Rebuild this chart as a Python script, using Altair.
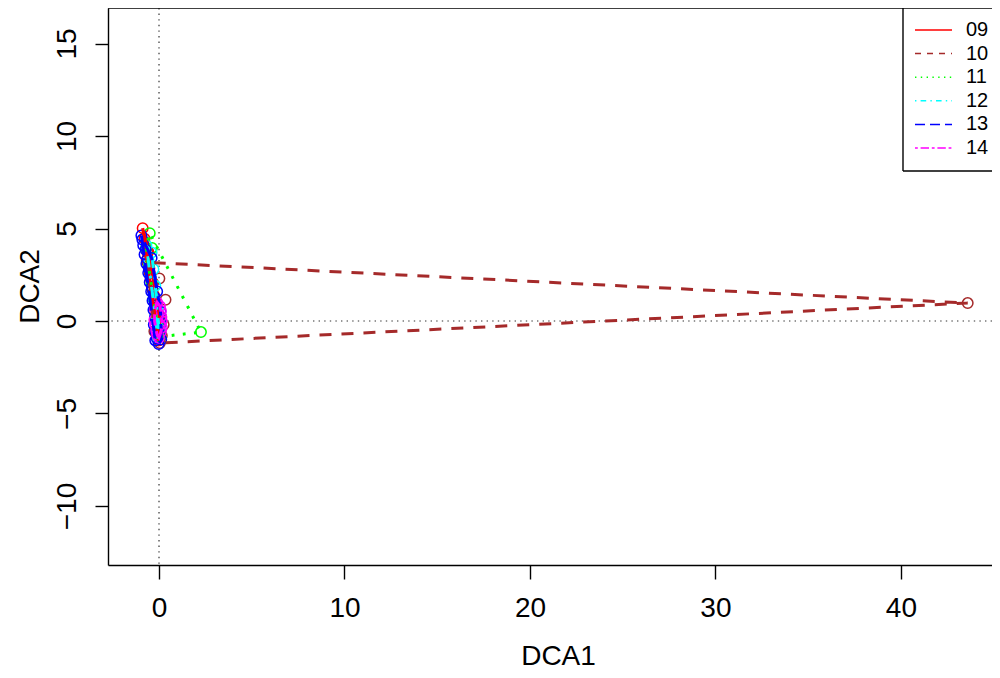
import altair as alt
import pandas as pd

FONT = "Liberation Sans"
W, H = 884, 557

groups = ["09", "10", "11", "12", "13", "14"]
colors = ["#FF0000", "#A52A2A", "#00FF00", "#00FFFF", "#0000FF", "#FF00FF"]
plot_dash = [[1, 0], [12, 10], [2.8, 8.4], [2.8, 8.4, 11.2, 8.4], [19.6, 8.4], [5.6, 5.6, 16.8, 5.6]]
legend_dash = [[1, 0], [6, 6], [1.4, 4.4], [1.4, 4.2, 5.6, 4.2], [10, 5], [2.8, 2.8, 8.4, 2.8]]

x09 = [-0.88, -0.78, -0.70, -0.62, -0.66, -0.52, -0.45, -0.38, -0.28, -0.20, -0.12, 0.02, -0.05, 0.06, -0.02, -0.15, -0.58, -0.32]
y09 = [5.02, 4.45, 3.95, 3.70, 3.30, 2.85, 2.30, 1.80, 1.40, 0.95, 0.60, 0.30, -0.20, -0.65, -1.05, 0.10, 3.75, 2.05]
x10 = [-0.62, -0.50, 0.02, -0.35, 0.35, -0.20, 0.12, -0.25, 0.15, 0.05, 0.25, 43.6]
y10 = [3.17, 2.60, 2.30, 1.70, 1.15, 0.60, 0.20, -0.55, -0.80, -1.19, -0.20, 0.97]
x11 = [-0.50, -0.38, -0.70, -0.55, -0.40, -0.30, -0.18, -0.05, 0.05, 2.26]
y11 = [4.75, 3.95, 3.90, 3.00, 2.10, 1.20, 0.40, -0.30, -0.85, -0.60]
x12 = [-0.68, -0.40, -0.55, -0.30, -0.45, -0.20, -0.28, -0.10, -0.15, 0.00, -0.05]
y12 = [4.10, 3.70, 3.20, 2.80, 2.40, 1.90, 1.20, 0.70, 0.00, -0.40, -0.95]
x13 = [-0.95, -0.85, -0.78, -0.68, -0.58, -0.50, -0.42, -0.35, -0.30, -0.22, -0.28, -0.18, -0.12, -0.02, 0.04, 0.08, -0.40, -0.10,
       -0.90, -0.72, -0.62, -0.55, -0.45, -0.38, -0.25, -0.15, -0.05, 0.10, 0.05, -0.20, 0.12]
y13 = [4.62, 4.10, 3.60, 3.10, 2.60, 2.10, 1.60, 1.10, 0.60, 0.20, -0.20, -0.60, -0.95, -1.25, -0.30, 0.50, 3.40, 1.60,
       4.40, 3.85, 3.35, 2.85, 2.35, 1.85, 1.30, 0.85, 0.30, -0.10, -0.75, -1.05, -1.00]
x14 = [-0.22, 0.10, -0.25, 0.15, -0.15, 0.10, 0.00, -0.05, 0.05, -0.10, 0.12, -0.20, 0.15, -0.10, 0.05]
y14 = [0.65, 0.55, 0.05, 0.00, -0.50, -0.60, -0.90, 0.30, -0.20, 1.00, 0.25, -0.20, -0.35, -0.75, 0.80]

xticks = [0, 10, 20, 30, 40]
yticks = [-10, -5, 0, 5, 10, 15]

series = {"09": (x09, y09), "10": (x10, y10), "11": (x11, y11),
          "12": (x12, y12), "13": (x13, y13), "14": (x14, y14)}


def hull(pts):
    pts = sorted(set(pts))
    if len(pts) < 3:
        return pts

    def cross(o, a, b):
        return (a[0] - o[0]) * (b[1] - o[1]) - (a[1] - o[1]) * (b[0] - o[0])
    lower, upper = [], []
    for p in pts:
        while len(lower) >= 2 and cross(lower[-2], lower[-1], p) <= 0:
            lower.pop()
        lower.append(p)
    for p in reversed(pts):
        while len(upper) >= 2 and cross(upper[-2], upper[-1], p) <= 0:
            upper.pop()
        upper.append(p)
    return lower[:-1] + upper[:-1]


prow, hrow = [], []
for g in groups:
    xs, ys = series[g]
    for a, b in zip(xs, ys):
        prow.append({"x": a, "y": b, "grp": g})
    h = hull(list(zip(xs, ys)))
    h = h + [h[0]]
    for i, (a, b) in enumerate(h):
        hrow.append({"x": a, "y": b, "grp": g, "ord": i})
pts_df = pd.DataFrame(prow)
hull_df = pd.DataFrame(hrow)

xs_scale = alt.Scale(domain=[-2.75, 44.91], nice=False, zero=False)
ys_scale = alt.Scale(domain=[-13.19, 16.92], nice=False, zero=False)

xaxis = alt.Axis(values=xticks, title="DCA1", grid=False, tickSize=14, tickWidth=1.4,
                 tickColor="black", domainColor="black", domainWidth=1.4,
                 labelFont=FONT, labelFontSize=28, labelColor="black",
                 labelBaseline="alphabetic", labelPadding=37, labelFlush=False,
                 labelOverlap=False, titleFont=FONT, titleFontSize=28,
                 titleFontWeight="normal", titleColor="black", titleBaseline="alphabetic",
                 titleAlign="center", titleX=450, titleY=99)
yaxis = alt.Axis(values=yticks, title="DCA2", grid=False, tickSize=13, tickWidth=1.4,
                 tickColor="black", domainColor="black", domainWidth=1.4,
                 labelFont=FONT, labelFontSize=28, labelColor="black",
                 labelAngle=270, labelAlign="center", labelBaseline="alphabetic",
                 labelPadding=20, labelFlush=False, labelOverlap=False,
                 titleFont=FONT, titleFontSize=28, titleFontWeight="normal",
                 titleColor="black", titleAngle=270, titleAlign="center",
                 titleBaseline="alphabetic", titleX=-70, titleY=278)

X = alt.X("x:Q", scale=xs_scale, axis=xaxis)
Y = alt.Y("y:Q", scale=ys_scale, axis=yaxis)
C = alt.Color("grp:N", scale=alt.Scale(domain=groups, range=colors), legend=None)

zero_v = alt.Chart(pd.DataFrame({"x": [0]})).mark_rule(
    color="#333333", strokeDash=[1.4, 4.2], strokeWidth=1.2).encode(x=X)
zero_h = alt.Chart(pd.DataFrame({"y": [0]})).mark_rule(
    color="#333333", strokeDash=[1.4, 4.2], strokeWidth=1.2).encode(y=Y)
points = alt.Chart(pts_df).mark_point(shape="circle", filled=False, size=110,
                                      strokeWidth=1.5, opacity=1).encode(x=X, y=Y, color=C)
hulls = alt.Chart(hull_df).mark_line(strokeWidth=3, strokeCap="butt").encode(
    x=X, y=Y, color=C,
    strokeDash=alt.StrokeDash("grp:N", scale=alt.Scale(domain=groups, range=plot_dash), legend=None),
    order="ord:Q", detail="grp:N")
main = alt.layer(zero_v, zero_h, points, hulls)

leg_df = pd.DataFrame({"grp": groups})
LY = alt.Y("grp:N", scale=alt.Scale(type="point", domain=groups, range=[22, 140], padding=0), axis=None)
LX0, LX1, LXT, LBOX = 807, 844, 858, 795
leg_box = alt.Chart(pd.DataFrame({"a": [0]})).mark_rect(fill="white").encode(
    x=alt.value(LBOX), x2=alt.value(W), y=alt.value(0), y2=alt.value(163))
leg_rules = alt.Chart(leg_df).mark_rule(strokeWidth=1.5).encode(
    x=alt.value(LX0), x2=alt.value(LX1), y=LY, color=C,
    strokeDash=alt.StrokeDash("grp:N", scale=alt.Scale(domain=groups, range=legend_dash), legend=None))
leg_text = alt.Chart(leg_df).mark_text(align="left", baseline="middle", fontSize=20,
                                       font=FONT, color="black").encode(
    x=alt.value(LXT), y=LY, text="grp:N")
legend = alt.layer(leg_box, leg_rules, leg_text)

frame_df = pd.DataFrame({"a": [0]})
top_line = alt.Chart(frame_df).mark_rule(color="black", strokeWidth=1.4).encode(
    x=alt.value(0), x2=alt.value(W), y=alt.value(0))
leg_left = alt.Chart(frame_df).mark_rule(color="black", strokeWidth=1.4).encode(
    x=alt.value(LBOX), y=alt.value(0), y2=alt.value(163))
leg_bottom = alt.Chart(frame_df).mark_rule(color="black", strokeWidth=1.4).encode(
    x=alt.value(LBOX), x2=alt.value(W), y=alt.value(163))

chart = alt.layer(main, legend, top_line, leg_left, leg_bottom).resolve_scale(
    y="independent", strokeDash="independent"
).properties(
    width=W, height=H,
    autosize=alt.AutoSizeParams(type="none"),
    padding={"left": 100, "top": 0, "right": 0, "bottom": 105},
    background="white",
).configure_view(stroke=None)

chart.save("out.html", embed_options={"renderer": "svg", "actions": False})
